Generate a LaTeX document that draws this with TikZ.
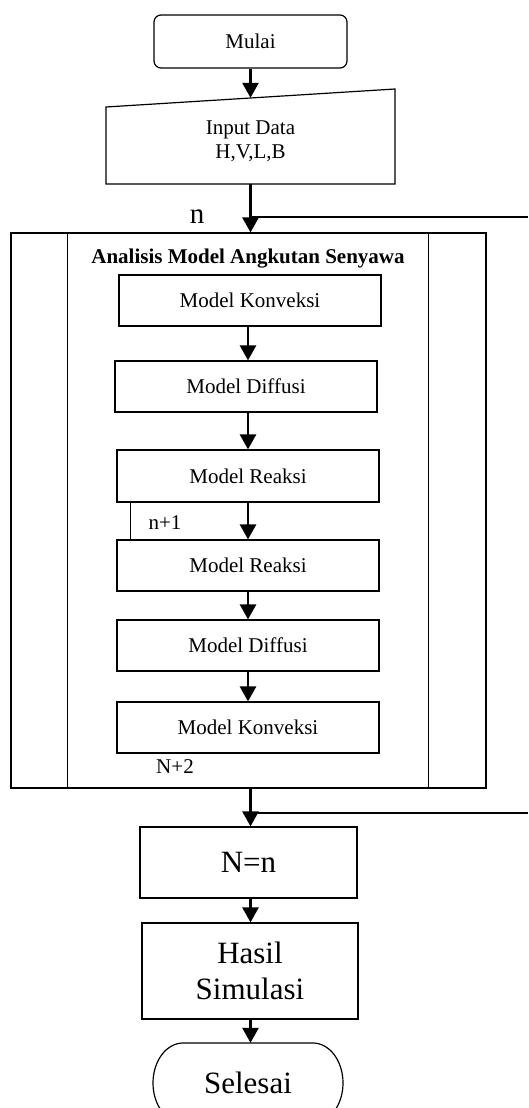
\documentclass[tikz,border=0pt]{standalone}
\usepackage{fontspec}
\setmainfont{Liberation Serif}
\usetikzlibrary{arrows.meta}
\begin{document}
\begin{tikzpicture}[x=1pt,y=1pt,
  box/.style={draw,line width=1.2pt,inner sep=0pt,align=center,font=\fontsize{21}{24}\selectfont},
  bigtext/.style={draw,line width=1.2pt,inner sep=0pt,align=center,font=\fontsize{31}{36}\selectfont},
  arr/.style={line width=2.6pt,-{Triangle[width=16pt,length=15pt]}},
  conn/.style={line width=1.1pt},
  lbl/.style={inner sep=0pt,anchor=base,font=\fontsize{21}{24}\selectfont}]
\useasboundingbox (0,0) rectangle (528,-1108);
\clip (0,0) rectangle (528,-1108);

% start
\node[box,rounded corners=7pt,minimum width=193pt,minimum height=53pt] (mulai) at (250.5,-41.5) {Mulai};

% input (manual input shape)
\node[inner sep=0pt,align=center,font=\fontsize{21}{24}\selectfont,minimum width=289pt,minimum height=86pt] (input) at (250.5,-141) {Input Data\\H,V,L,B};
\draw[line width=1.2pt] (106,-107) -- (395,-89) -- (395,-184) -- (106,-184) -- cycle;

% big process box
\node[draw,line width=1.1pt,minimum width=475pt,minimum height=555pt,inner sep=0pt] (big) at (248.5,-510.5) {};
\draw[conn] ([xshift=57pt]big.north west) -- ([xshift=57pt]big.south west);
\draw[conn] ([xshift=-58pt]big.north east) -- ([xshift=-58pt]big.south east);
\node[lbl,font=\fontsize{21}{24}\selectfont\bfseries] (title) at (248,-263) {Analisis Model Angkutan Senyawa};

% inner steps
\node[box,minimum width=262pt,minimum height=51pt] (k1) at (250,-300.5) {Model Konveksi};
\node[box,minimum width=262pt,minimum height=51pt] (d1) at (246,-386.5) {Model Diffusi};
\node[box,minimum width=262pt,minimum height=52pt] (r1) at (248,-476) {Model Reaksi};
\node[box,minimum width=262pt,minimum height=51pt] (r2) at (248,-565.5) {Model Reaksi};
\node[box,minimum width=262pt,minimum height=51pt] (d2) at (248,-645.5) {Model Diffusi};
\node[box,minimum width=262pt,minimum height=51pt] (k2) at (248,-727.5) {Model Konveksi};

\draw[arr] (k1.south -| r1) -- (d1.north -| r1);
\draw[arr] (d1.south -| r1) -- (r1.north);
\draw[arr] (r1.south) -- (r2.north);
\draw[arr] (r2.south) -- (d2.north);
\draw[arr] (d2.south) -- (k2.north);
\draw[conn] ([xshift=14pt]r1.south west) -- ([xshift=14pt]r2.north west);

\node[lbl] (n1) at (165,-529) {n+1};
\node[lbl] (n2) at (175,-773) {N+2};

% outer flow
\node[lbl,font=\fontsize{29}{32}\selectfont] (nlab) at (197,-223) {n};
\draw[arr] (mulai.south -| input) -- (input.north);
\draw[arr] (input.south) -- (input.south |- big.north);
\coordinate (lt) at (528,-217);
\draw[conn] (lt) -- (lt -| input.south);

\node[bigtext,minimum width=217pt,minimum height=71pt] (nn) at (248.5,-862.5) {N=n};
\node[bigtext,minimum width=216pt,minimum height=96pt] (hasil) at (250,-971) {Hasil\\Simulasi};
\node[inner sep=0pt,font=\fontsize{31}{36}\selectfont,minimum width=190pt,minimum height=80pt] (sel) at (248,-1083) {Selesai};
\draw[line width=1.2pt] (183,-1043) -- (313,-1043) arc[start angle=90,end angle=-90,x radius=30pt,y radius=40pt] -- (183,-1123) arc[start angle=270,end angle=90,x radius=30pt,y radius=40pt] -- cycle;

\draw[arr] (big.south -| input) -- (nn.north -| input);
\coordinate (lb) at (528,-813);
\draw[conn] (lb) -- (lb -| input.south);
\draw[arr] (nn.south -| input) -- (hasil.north -| input);
\draw[arr] (hasil.south -| input) -- (sel.north -| input);
\end{tikzpicture}
\end{document}
